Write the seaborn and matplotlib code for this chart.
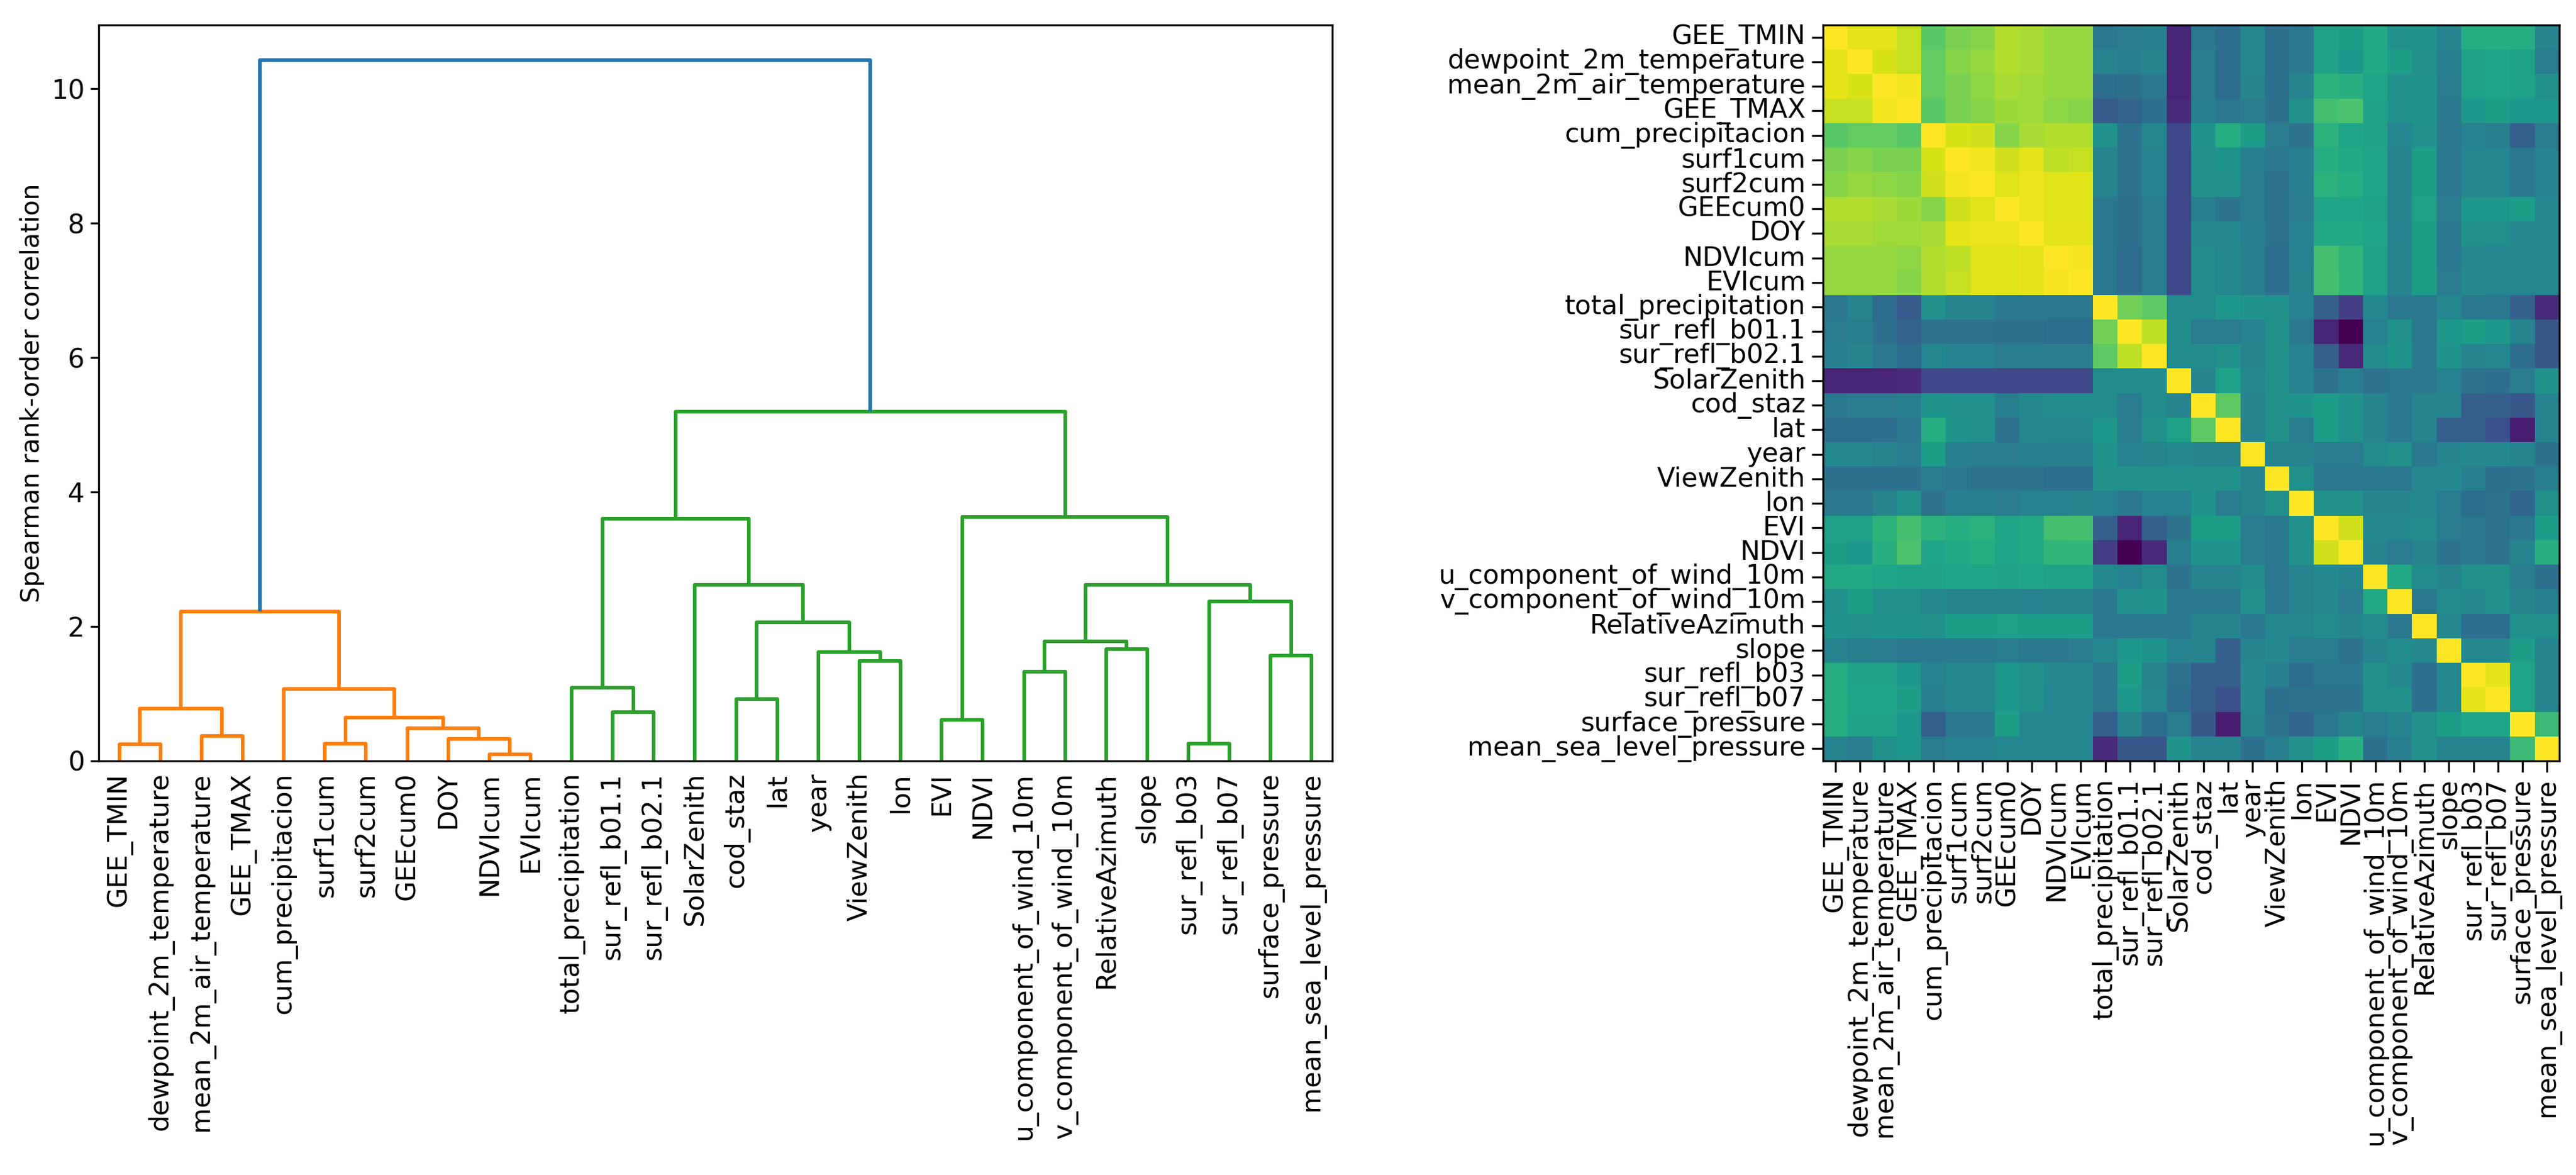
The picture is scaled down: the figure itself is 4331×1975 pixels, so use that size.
import numpy as np
import pandas as pd
import matplotlib
matplotlib.use("Agg")
import matplotlib.pyplot as plt
import seaborn as sns

features = [
    "GEE_TMIN", "dewpoint_2m_temperature", "mean_2m_air_temperature", "GEE_TMAX",
    "cum_precipitacion", "surf1cum", "surf2cum", "GEEcum0", "DOY", "NDVIcum", "EVIcum",
    "total_precipitation", "sur_refl_b01.1", "sur_refl_b02.1", "SolarZenith", "cod_staz",
    "lat", "year", "ViewZenith", "lon", "EVI", "NDVI", "u_component_of_wind_10m",
    "v_component_of_wind_10m", "RelativeAzimuth", "slope", "sur_refl_b03", "sur_refl_b07",
    "surface_pressure", "mean_sea_level_pressure",
]

# lower triangle of the Spearman correlation matrix (row i, columns 0..i)
corr_lower = [
    [1.00],
    [0.93, 1.00],
    [0.93, 0.90, 1.00],
    [0.85, 0.85, 0.97, 1.00],
    [0.56, 0.59, 0.59, 0.56, 1.00],
    [0.66, 0.69, 0.66, 0.66, 0.90, 1.00],
    [0.69, 0.73, 0.71, 0.69, 0.88, 0.97, 1.00],
    [0.80, 0.80, 0.78, 0.75, 0.69, 0.88, 0.92, 1.00],
    [0.78, 0.78, 0.76, 0.76, 0.78, 0.93, 0.95, 0.95, 1.00],
    [0.73, 0.73, 0.73, 0.71, 0.80, 0.83, 0.92, 0.92, 0.93, 1.00],
    [0.73, 0.73, 0.73, 0.69, 0.80, 0.85, 0.92, 0.92, 0.93, 0.98, 1.00],
    [-0.02, 0.07, -0.10, -0.22, 0.15, 0.07, 0.07, -0.02, -0.02, -0.02, -0.02, 1.00],
    [0.01, 0.03, -0.07, -0.16, -0.05, -0.05, -0.05, -0.07, -0.07, -0.10, -0.10, 0.63, 1.00],
    [0.03, 0.07, -0.02, -0.09, 0.08, 0.05, 0.05, 0.00, 0.01, 0.01, 0.01, 0.58, 0.83, 1.00],
    [-0.53, -0.53, -0.53, -0.50, -0.33, -0.33, -0.33, -0.33, -0.33, -0.33, -0.33, 0.12, 0.12, 0.12, 1.00],
    [-0.02, 0.01, 0.01, 0.03, 0.18, 0.15, 0.15, 0.03, 0.10, 0.12, 0.12, 0.12, 0.01, 0.12, 0.07, 1.00],
    [-0.10, -0.10, -0.10, -0.02, 0.35, 0.18, 0.15, -0.05, 0.10, 0.08, 0.08, 0.20, 0.01, 0.15, 0.27, 0.58, 1.00],
    [0.10, 0.10, 0.07, 0.01, 0.24, 0.03, 0.01, 0.01, 0.03, 0.03, 0.03, 0.18, 0.05, 0.07, 0.10, 0.07, 0.07, 1.00],
    [-0.07, -0.07, -0.07, -0.07, 0.01, -0.02, -0.05, -0.05, -0.05, -0.09, -0.09, 0.15, 0.15, 0.15, 0.15, 0.15, 0.15, 0.07, 1.00],
    [-0.02, -0.02, 0.07, 0.15, -0.05, 0.03, 0.03, 0.01, 0.05, 0.05, 0.07, 0.05, -0.02, 0.05, 0.05, 0.18, 0.01, 0.07, 0.15, 1.00],
    [0.27, 0.27, 0.40, 0.49, 0.39, 0.35, 0.39, 0.29, 0.32, 0.49, 0.49, -0.19, -0.53, -0.19, -0.05, 0.24, 0.24, 0.01, -0.02, 0.15, 1.00],
    [0.24, 0.20, 0.37, 0.52, 0.29, 0.32, 0.35, 0.29, 0.32, 0.41, 0.42, -0.39, -0.70, -0.50, 0.03, 0.18, 0.18, 0.01, -0.02, 0.15, 0.88, 1.00],
    [0.32, 0.32, 0.29, 0.27, 0.27, 0.29, 0.29, 0.27, 0.29, 0.27, 0.27, 0.10, 0.05, 0.12, -0.05, 0.07, 0.07, 0.12, -0.02, 0.07, 0.10, 0.07, 1.00],
    [0.15, 0.24, 0.15, 0.15, 0.08, 0.07, 0.07, 0.07, 0.05, 0.07, 0.07, -0.02, 0.15, 0.18, -0.02, -0.02, -0.02, 0.15, -0.02, 0.07, 0.10, 0.01, 0.32, 1.00],
    [0.18, 0.15, 0.18, 0.18, 0.15, 0.24, 0.24, 0.25, 0.24, 0.24, 0.24, -0.02, -0.02, -0.02, -0.02, 0.07, 0.07, -0.02, 0.08, 0.08, 0.12, 0.07, 0.12, -0.02, 1.00],
    [0.07, 0.03, 0.01, -0.02, -0.02, -0.02, -0.02, 0.01, -0.02, -0.02, 0.01, 0.08, 0.20, 0.18, 0.05, 0.07, -0.19, 0.07, 0.10, 0.01, 0.01, -0.05, 0.07, 0.12, 0.10, 1.00],
    [0.35, 0.27, 0.27, 0.20, 0.05, 0.08, 0.08, 0.20, 0.15, 0.10, 0.10, -0.02, 0.24, 0.07, -0.05, -0.19, -0.19, 0.10, 0.03, -0.10, -0.02, -0.02, 0.15, 0.10, -0.09, 0.10, 1.00],
    [0.35, 0.29, 0.29, 0.24, 0.03, 0.08, 0.08, 0.20, 0.15, 0.08, 0.08, -0.02, 0.20, 0.08, -0.09, -0.19, -0.28, 0.10, -0.07, -0.05, -0.05, -0.05, 0.15, 0.15, -0.09, 0.10, 0.93, 1.00],
    [0.35, 0.27, 0.27, 0.20, -0.19, -0.02, -0.02, 0.24, 0.08, 0.08, 0.08, -0.19, 0.07, -0.10, 0.01, -0.24, -0.56, 0.07, -0.05, -0.14, -0.02, 0.07, 0.01, 0.07, 0.15, 0.24, 0.29, 0.29, 1.00],
    [0.07, 0.01, 0.15, 0.20, 0.01, 0.05, 0.05, 0.08, 0.08, 0.08, 0.08, -0.50, -0.24, -0.24, 0.18, 0.07, 0.07, -0.07, 0.03, 0.15, 0.24, 0.37, -0.07, 0.03, 0.15, 0.07, 0.07, 0.07, 0.46, 1.00],
]

# hierarchical clustering merges (ids < 30 are leaves, id 30+k is merge k)
merge_left = [0, 2, 30, 5, 9, 8, 7, 33, 4, 32, 12, 11, 15, 18, 17, 42, 14, 41,
              20, 22, 24, 49, 26, 28, 52, 51, 48, 47, 39]
merge_right = [1, 3, 31, 6, 10, 34, 35, 36, 37, 38, 13, 40, 16, 19, 43, 44, 45, 46,
               21, 23, 25, 50, 27, 29, 53, 54, 55, 56, 57]
merge_height = [0.25, 0.37, 0.78, 0.26, 0.10, 0.33, 0.49, 0.65, 1.07, 2.22,
                0.73, 1.09, 0.92, 1.49, 1.62, 2.06, 2.62, 3.60,
                0.61, 1.33, 1.66, 1.78, 0.26, 1.57, 2.37, 2.62, 3.63, 5.20, 10.43]

n = len(features)
corr = np.zeros((n, n))
for i, row in enumerate(corr_lower):
    for j, v in enumerate(row):
        corr[i, j] = v
        corr[j, i] = v
df = pd.DataFrame(corr, index=features, columns=features)

FS = 16
DPI = 200
fig = plt.figure(figsize=(4331 / DPI, 1975 / DPI), dpi=DPI)
ax1 = fig.add_axes([166 / 4331, 1 - 1279 / 1975, 2074 / 4331, 1237 / 1975])
ax2 = fig.add_axes([3065 / 4331, 1 - 1279 / 1975, 1238 / 4331, 1237 / 1975])

# ---- dendrogram ----
xpos = {i: 5.0 + 10.0 * i for i in range(n)}
hpos = {i: 0.0 for i in range(n)}
children = {}
for k, (a, b, h) in enumerate(zip(merge_left, merge_right, merge_height)):
    node = n + k
    xpos[node] = (xpos[a] + xpos[b]) / 2.0
    hpos[node] = h
    children[node] = (a, b)

root = n + len(merge_height) - 1
threshold = 0.7 * max(merge_height)
palette = ["#ff7f0e", "#2ca02c", "#d62728", "#9467bd"]
node_color = {}
counter = [0]


def assign(node, color):
    if node not in children:
        return
    h = hpos[node]
    if h >= threshold:
        node_color[node] = "#1f77b4"
        for c in children[node]:
            if c in children and hpos[c] < threshold:
                assign(c, palette[counter[0] % len(palette)])
                counter[0] += 1
            else:
                assign(c, None)
    else:
        node_color[node] = color
        for c in children[node]:
            assign(c, color)


assign(root, None)

for node, (a, b) in children.items():
    ax1.plot([xpos[a], xpos[a], xpos[b], xpos[b]],
             [hpos[a], hpos[node], hpos[node], hpos[b]],
             color=node_color[node], lw=2.2, solid_capstyle="butt")

ax1.set_xlim(0, 10 * n)
ax1.set_ylim(0, max(merge_height) * 1.05)
ax1.set_xticks([xpos[i] for i in range(n)])
ax1.set_xticklabels(features, rotation=90, fontsize=FS)
for line in ax1.get_xticklines():
    line.set_visible(False)
ax1.set_yticks([0, 2, 4, 6, 8, 10])
ax1.tick_params(axis="y", labelsize=FS, length=5, width=1.2)
ax1.set_ylabel("Spearman rank-order correlation", fontsize=FS - 0.5)
for s in ax1.spines.values():
    s.set_linewidth(1.2)

# ---- heatmap ----
sns.heatmap(df, ax=ax2, cmap="viridis", cbar=False,
            xticklabels=features, yticklabels=features)
for s in ax2.spines.values():
    s.set_visible(True)
    s.set_linewidth(1.2)
ax2.set_xticklabels(features, rotation=90, fontsize=FS)
ax2.set_yticklabels(features, rotation=0, fontsize=FS)
ax2.tick_params(length=7, width=1.2)
ax2.set_xlabel("")
ax2.set_ylabel("")

fig.savefig("out.png", dpi=DPI)
